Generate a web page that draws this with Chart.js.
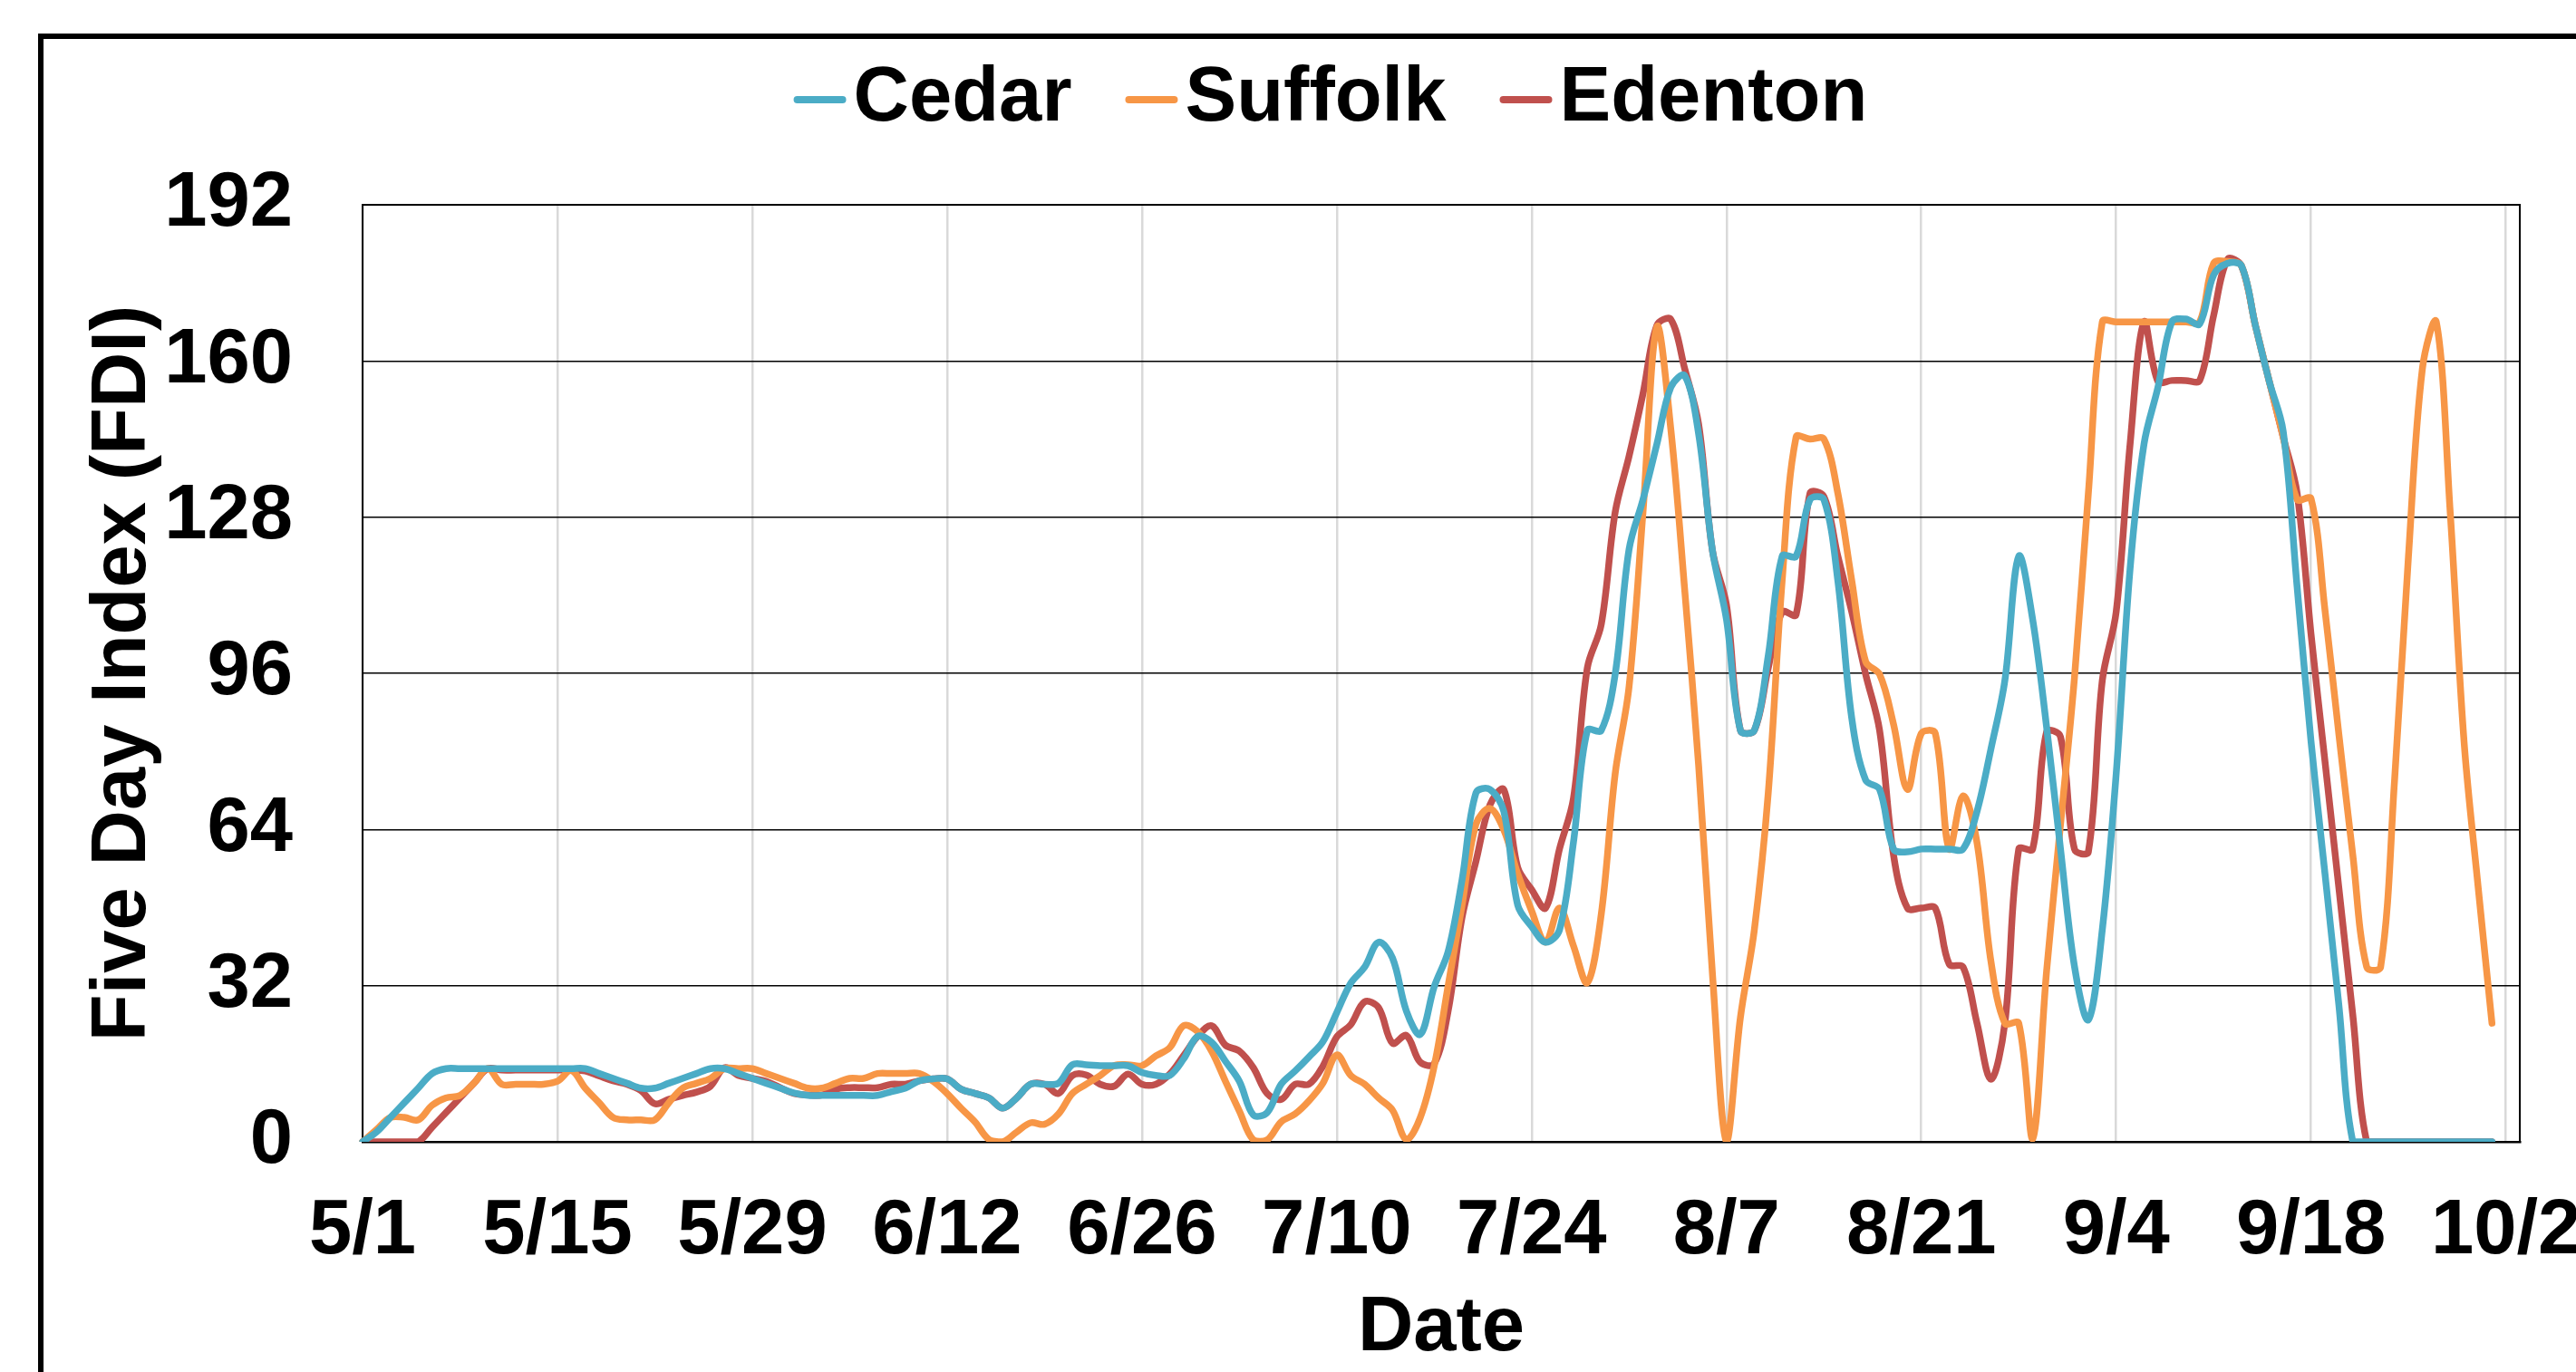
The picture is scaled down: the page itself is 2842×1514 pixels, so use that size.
<!DOCTYPE html>
<html>
<head>
<meta charset="utf-8">
<title>Five Day Index (FDI)</title>
<script src="https://cdn.jsdelivr.net/npm/chart.js@4.4.1/dist/chart.umd.min.js"></script>
<style>
  html, body { margin: 0; padding: 0; background: #fff; }
  #wrap { width: 2842px; height: 1514px; }
</style>
</head>
<body>
<div id="wrap"><canvas id="fdiChart"></canvas></div>
<script>
// daily dates 5/1 .. 10/3 (axis runs one day past the last tick)
const dates = [];
for (let d = new Date(2021, 4, 1); d <= new Date(2021, 9, 3); d.setDate(d.getDate() + 1)) {
    dates.push((d.getMonth() + 1) + '/' + d.getDate());
}

// values, one per day from 5/1
const cedar = [
    0, 2, 5, 8, 11, 14, 15, 15, 15, 15,
    15, 15, 15, 15, 15, 15, 15, 14, 13, 12,
    11, 11, 12, 13, 14, 15, 15, 14, 13, 12,
    11, 10, 9.5, 9.5, 9.5, 9.5, 9.5, 9.5, 10.3, 11,
    12.5, 12.9, 12.9, 10.8, 9.9, 9, 6.9, 9, 11.8, 11.8,
    12, 15.8, 15.8, 15.6, 15.6, 15.6, 14.2, 13.6, 13.6, 17,
    21.6, 20.4, 16.5, 12.4, 5.5, 6, 11.8, 14.5, 17.4, 20.5,
    26.5, 32.5, 35.8, 40.9, 37.7, 26.8, 22, 31.8, 39, 53.7,
    71.5, 72.2, 67.7, 48.5, 44.1, 40.9, 43.4, 61.3, 84.3, 84.3,
    95.8, 121.4, 131.6, 143, 154.6, 157, 145, 121, 107, 84.3,
    84.3, 99.6, 120, 120, 131.6, 131.6, 115, 86.8, 74.1, 72.2,
    60, 59.4, 60, 60, 60, 60, 67.7, 80.5, 94.5, 120,
    107, 85, 60, 36, 25, 43.4, 75.4, 117.5, 143, 154.6,
    168, 168.6, 167.6, 177.6, 180, 179.5, 167.3, 155.8, 145.6, 113.7,
    82, 55, 28, 0, 0, 0, 0, 0, 0, 0,
    0, 0, 0, 0
];
const suffolk = [
    0, 2.5, 5, 5, 4.5, 7.5, 9, 9.5, 12, 15,
    11.8, 11.8, 11.8, 11.8, 12.4, 14.6, 11, 8, 5, 4.5,
    4.5, 4.5, 8, 11, 12, 13, 15, 15, 15, 14,
    13, 12, 11, 11, 12, 13, 13, 14, 14, 14,
    14, 12.4, 9.9, 6.9, 4.1, 0.5, 0, 2, 3.9, 3.6,
    5.7, 9.9, 11.8, 13.6, 15.6, 15.8, 15.6, 17.6, 19.3, 23.8,
    22.6, 18.6, 12.4, 6.3, 0.4, 0.4, 4.1, 5.7, 8.4, 12,
    17.8, 13.6, 11.8, 9, 6.5, 0.5, 5, 15.5, 32, 48.5,
    65.1, 68.3, 63.9, 54.9, 47.3, 40.9, 47.9, 40.2, 32.6, 46.6,
    75.4, 93.3, 129, 167, 146, 113, 77, 34, 0, 25.5,
    43.4, 71.5, 115, 144.4, 144, 144, 132.9, 115, 98.4, 95.8,
    85.6, 72.2, 83.7, 83.7, 60, 70.9, 61.3, 37, 24.3, 24.3,
    0.6, 35, 65, 95, 132.9, 168, 168, 168, 168, 168,
    168, 168, 168, 180, 180.4, 179.5, 167.3, 155.8, 144.4, 131.6,
    131.8, 109, 83.5, 58.8, 35.8, 35.8, 74, 120, 158.4, 168,
    129, 81.8, 52.4, 24.3
];
const edenton = [
    0, 0, 0, 0, 0, 3, 6, 9, 12, 15,
    14.7, 14.7, 14.7, 14.7, 14.7, 14.7, 14.5, 13.5, 12.5, 11.8,
    10.5, 7.8, 8.7, 9.5, 10.2, 11.4, 15.2, 13.6, 13, 12.4,
    11.1, 9.9, 9.6, 9.6, 10.8, 11.1, 11.1, 11.1, 11.8, 11.8,
    12.5, 12.9, 12.9, 10.8, 9.9, 9, 6.9, 9, 11.8, 11.8,
    9.9, 13.6, 13.7, 11.8, 11.4, 13.9, 11.8, 11.8, 13.9, 17.7,
    21.6, 23.8, 19.8, 18.6, 15.2, 9.9, 8.7, 11.8, 11.8, 15.5,
    21.5, 24, 28.7, 27.5, 20.2, 21.8, 16.3, 16, 26.8, 46,
    57.5, 69, 72.2, 56.2, 51.7, 47.9, 60, 70.3, 97.1, 106,
    129, 140.5, 153.3, 167.3, 168.5, 158.4, 147, 121, 110, 84.3,
    84.3, 97.1, 108.6, 108, 132.9, 132.2, 120, 108.6, 95.8, 84.3,
    58.8, 47.9, 47.9, 47.9, 36.4, 35.8, 24.3, 12.8, 24.3, 60,
    60, 84, 83, 60, 59.4, 94.5, 108.6, 143, 168, 155.8,
    156, 156, 156, 169.3, 180.8, 179.5, 167.3, 155.8, 144.4, 132.9,
    104, 78, 52, 26, 0, 0, 0, 0, 0, 0,
    0, 0, 0, 0
];

const FONT = "'Liberation Sans', Arial, sans-serif";
Chart.defaults.font.family = FONT;
Chart.defaults.color = '#000';

// outer frame, plot frame and a legend laid out like the original
const chartDecor = {
    id: 'chartDecor',
    beforeDraw(chart) {
        const ctx = chart.ctx;
        ctx.save();
        ctx.fillStyle = '#fff';
        ctx.fillRect(0, 0, chart.width, chart.height);
        ctx.fillStyle = '#000';
        ctx.fillRect(42, 37, chart.width, 6);
        ctx.fillRect(42, 37, 6, chart.height);
        ctx.restore();
    },
    beforeDatasetsDraw(chart) {
        const a = chart.chartArea;
        const ctx = chart.ctx;
        ctx.save();
        ctx.strokeStyle = '#000';
        ctx.lineWidth = 2;
        ctx.strokeRect(a.left, a.top, a.right - a.left, a.bottom - a.top);
        ctx.restore();
    },
    afterDraw(chart) {
        const ctx = chart.ctx;
        ctx.save();
        ctx.font = 'bold 85px ' + FONT;
        ctx.textBaseline = 'middle';
        const lineLen = 58, gap = 8, spacing = 59, y = 110;
        const items = chart.data.datasets.map(ds => ({
            label: ds.label, color: ds.borderColor, w: ctx.measureText(ds.label).width
        }));
        const total = items.reduce((s, it) => s + lineLen + gap + it.w, 0) + spacing * (items.length - 1);
        let x = 1468 - total / 2;
        items.forEach(it => {
            ctx.strokeStyle = it.color;
            ctx.lineWidth = 8;
            ctx.lineCap = 'round';
            ctx.beginPath();
            ctx.moveTo(x + 4, y);
            ctx.lineTo(x + lineLen - 4, y);
            ctx.stroke();
            x += lineLen + gap;
            ctx.fillStyle = '#000';
            ctx.fillText(it.label, x, y);
            x += it.w + spacing;
        });
        ctx.restore();
    }
};

const lineStyle = {
    borderWidth: 7.5,
    pointRadius: 0,
    tension: 0.35,
    borderCapStyle: 'round',
    borderJoinStyle: 'round',
    fill: false
};

const fdiCtx = document.getElementById('fdiChart').getContext('2d');
const fdiChart = new Chart(fdiCtx, {
    type: 'line',
    data: {
        labels: dates,
        datasets: [
            { label: 'Cedar', data: cedar, borderColor: '#4BACC6', ...lineStyle },
            { label: 'Suffolk', data: suffolk, borderColor: '#F79646', ...lineStyle },
            { label: 'Edenton', data: edenton, borderColor: '#C0504D', ...lineStyle }
        ]
    },
    options: {
        responsive: true,
        maintainAspectRatio: false,
        animation: false,
        layout: { padding: { top: 226, right: 62, bottom: 0, left: 0 } },
        plugins: {
            legend: { display: false },
            tooltip: { enabled: false }
        },
        scales: {
            x: {
                grid: {
                    color: c => (c.index % 14 === 0 ? '#d9d9d9' : 'rgba(0,0,0,0)'),
                    lineWidth: 2.5,
                    drawTicks: false
                },
                border: { color: '#000', width: 2.5 },
                ticks: {
                    autoSkip: false,
                    maxRotation: 0,
                    minRotation: 0,
                    padding: 57,
                    font: { size: 85, weight: 'bold', lineHeight: 1 },
                    callback: function (value, index) {
                        return index % 14 === 0 ? this.getLabelForValue(value) : '';
                    }
                },
                title: {
                    display: true,
                    text: 'Date',
                    font: { size: 85, weight: 'bold', lineHeight: 1 },
                    padding: { top: 0, bottom: 5 }
                },
                afterFit(scale) {
                    scale.height = 254;
                    scale.paddingLeft = 0;
                    scale.paddingRight = 0;
                }
            },
            y: {
                min: 0,
                max: 192,
                grid: { color: '#000', lineWidth: 1.5, drawTicks: false },
                border: { color: '#000', width: 2 },
                ticks: {
                    stepSize: 32,
                    padding: 77,
                    font: { size: 85, weight: 'bold', lineHeight: 1 }
                },
                title: {
                    display: true,
                    text: 'Five Day Index (FDI)',
                    font: { size: 85, weight: 'bold', lineHeight: 1 },
                    padding: { top: 94, bottom: 0 }
                },
                afterFit(scale) {
                    scale.width = 400;
                }
            }
        }
    },
    plugins: [chartDecor]
});
</script>
</body>
</html>
